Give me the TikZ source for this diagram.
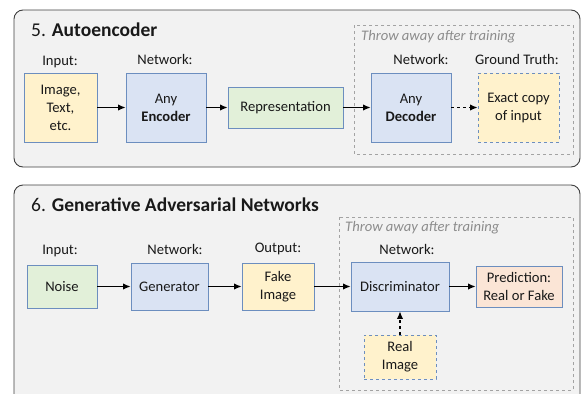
\documentclass[tikz,border=0pt]{standalone}
\usepackage{fontspec}
\setmainfont{Carlito}
\definecolor{boxyellow}{HTML}{FFF2CC}
\definecolor{boxblue}{HTML}{DAE3F3}
\definecolor{boxgreen}{HTML}{E2F0D9}
\definecolor{boxpink}{HTML}{FBE5D6}
\definecolor{boxline}{HTML}{6C8EBF}
\definecolor{panelfill}{HTML}{F2F2F2}
\definecolor{panelline}{HTML}{404040}
\definecolor{throwgray}{HTML}{8C8C8C}
\usetikzlibrary{arrows.meta,positioning}

\begin{document}
\begin{tikzpicture}[x=1pt,y=-1pt,
    every node/.style={font=\fontsize{14.6}{18}\selectfont,text=black!90},
    blk/.style={draw=boxline,line width=0.9pt,align=center,inner sep=1pt},
    lbl/.style={inner sep=0pt},
    panel/.style={draw=panelline,fill=panelfill,line width=0.9pt,rounded corners=9pt},
    throwbox/.style={draw=throwgray!80,dashed,line width=0.6pt},
    flow/.style={-{Latex[length=7.5pt,width=6.5pt]},line width=1.2pt},
    ttl/.style={anchor=west,inner sep=0pt,font=\fontsize{19.5}{22}\selectfont}]
  \useasboundingbox (0,0) rectangle (587,394);

  %% Panel 5: autoencoder
  \draw[panel] (14,10) rectangle (580,167);
  \node[ttl] (aetitle) at (31,30) {5. \textbf{Autoencoder}};
  \draw[throwbox] (354,25) rectangle (573,154);
  \node[lbl,anchor=west,text=throwgray,font=\fontsize{14.6}{18}\selectfont\itshape]
        (aethrow) at (361,37) {Throw away after training};

  \node[blk,fill=boxyellow,minimum width=73pt,minimum height=69pt]
        (inp) at (60.5,107.5) {Image,\\Text,\\etc.};
  \node[blk,fill=boxblue,minimum width=80pt,minimum height=69pt]
        (enc) at (166,107.5) {Any\\\textbf{Encoder}};
  \node[blk,fill=boxgreen,minimum width=115pt,minimum height=41pt]
        (rep) at (285.5,107.5) {Representation};
  \node[blk,fill=boxblue,minimum width=80pt,minimum height=69pt]
        (dec) at (411,107.5) {Any\\\textbf{Decoder}};
  \node[blk,dashed,fill=boxyellow,minimum width=81pt,minimum height=69pt]
        (gt) at (518.5,107.5) {Exact copy\\of input};

  \node[lbl] (inplbl) at (60,62) {Input:};
  \node[lbl] (enclbl) at (165,59) {Network:};
  \node[lbl] (declbl) at (421,59) {Network:};
  \node[lbl] (gtlbl) at (517,59) {Ground Truth:};

  \draw[flow] (inp) -- (enc);
  \draw[flow] (enc) -- (rep);
  \draw[flow] (rep) -- (dec);
  \draw[flow,dashed] (dec) -- (gt);

  %% Panel 6: GAN
  \draw[panel] (14,185) rectangle (580,425);
  \node[ttl] (gantitle) at (31,205) {6. \textbf{Generative Adversarial Networks}};
  \draw[throwbox] (339,217) rectangle (573,390);
  \node[lbl,anchor=west,text=throwgray,font=\fontsize{14.6}{18}\selectfont\itshape]
        (ganthrow) at (345,228) {Throw away after training};

  \node[blk,fill=boxgreen,minimum width=70pt,minimum height=43pt]
        (noise) at (62,286.5) {Noise};
  \node[blk,fill=boxblue,minimum width=77pt,minimum height=47pt]
        (gen) at (169.5,286.5) {Generator};
  \node[blk,fill=boxyellow,minimum width=72pt,minimum height=47pt]
        (fake) at (278,286.5) {Fake\\Image};
  \node[blk,fill=boxblue,minimum width=98pt,minimum height=49pt]
        (dis) at (400,286.5) {Discriminator};
  \node[blk,fill=boxpink,minimum width=86pt,minimum height=41pt]
        (pred) at (519,286.5) {Prediction:\\Real or Fake};
  \node[blk,dashed,fill=boxyellow,minimum width=72pt,minimum height=44pt]
        (real) at (400,357) {Real\\Image};

  \node[lbl] (noiselbl) at (60,251) {Input:};
  \node[lbl] (genlbl) at (175,249) {Network:};
  \node[lbl] (fakelbl) at (278,249) {Output:};
  \node[lbl] (dislbl) at (407,249) {Network:};

  \draw[flow] (noise) -- (gen);
  \draw[flow] (gen) -- (fake);
  \draw[flow] (fake) -- (dis);
  \draw[flow] (dis) -- (pred);
  \draw[flow,dashed] (real) -- (dis);
\end{tikzpicture}
\end{document}
